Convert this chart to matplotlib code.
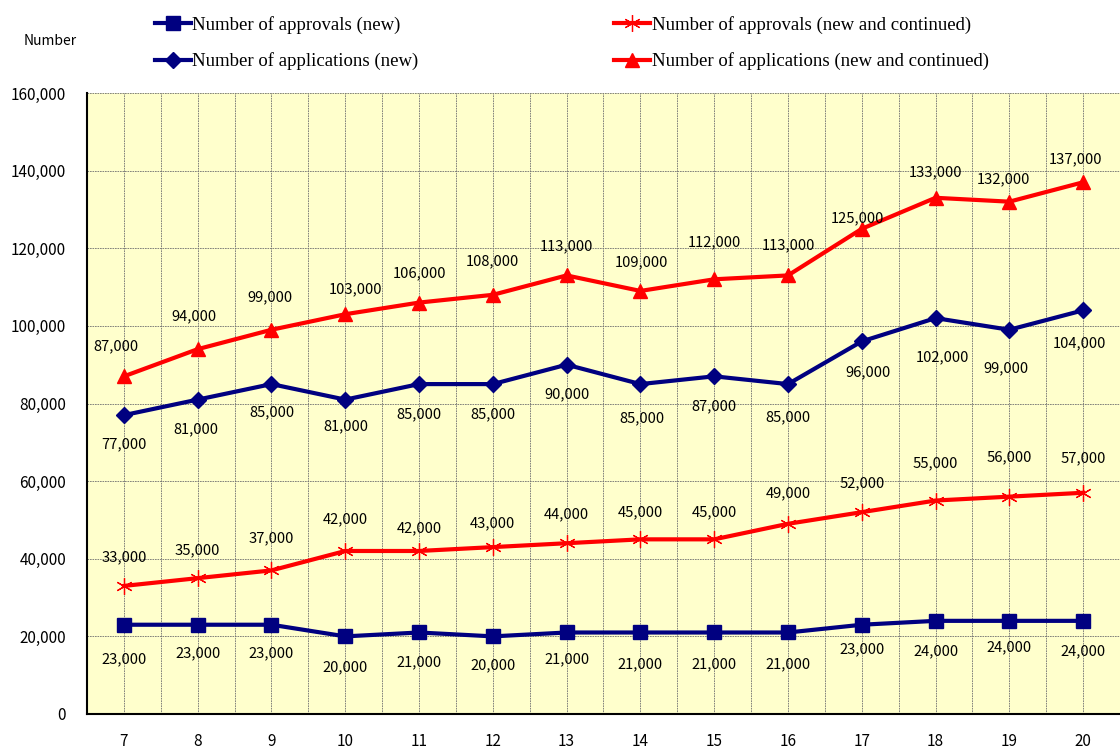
import matplotlib
matplotlib.use("Agg")
import matplotlib.pyplot as plt

years = ["7", "8", "9", "10", "11", "12", "13", "14", "15", "16", "17", "18", "19", "20"]
approvals_new = [23000, 23000, 23000, 20000, 21000, 20000, 21000, 21000, 21000, 21000, 23000, 24000, 24000, 24000]
applications_new = [77000, 81000, 85000, 81000, 85000, 85000, 90000, 85000, 87000, 85000, 96000, 102000, 99000, 104000]
approvals_all = [33000, 35000, 37000, 42000, 42000, 43000, 44000, 45000, 45000, 49000, 52000, 55000, 56000, 57000]
applications_all = [87000, 94000, 99000, 103000, 106000, 108000, 113000, 109000, 112000, 113000, 125000, 133000, 132000, 137000]

y_ticks = [0, 20000, 40000, 60000, 80000, 100000, 120000, 140000, 160000]

# label offsets in pixels (dx, dy); positive dy = up
off_appr_new = [-35, -29, -29, -31, -30, -29, -27, -32, -32, -32, -25, -30, -26, -30]
off_apps_new = [-29, -30, -28, -27, -30, -30, -30, -34, -30, -33, -31, -39, -39, -33]
off_appr_all = [29, 28, 32, 32, 23, 24, 29, 27, 27, 31, 29, 37, 39, 34]
off_apps_all = [30, 33, 32, 25, 29, 34, 29, 29, 37, 30, 11, 25, 22, 23]
dx_apps_all = [-8, -4, -2, 10, 0, 0, 0, 1, 0, 0, -4, 0, -6, -8]
dx_apps_new = [0, -2, 0, 1, 0, 0, 0, 2, 0, 0, 6, 7, -3, -4]

NAVY = "#000080"
RED = "#FF0000"
SANS = ["Noto Sans CJK JP", "DejaVu Sans"]
SERIF = ["Liberation Serif", "DejaVu Serif"]

fig = plt.figure(figsize=(11.2, 7.49), dpi=100)
ax = fig.add_axes([87 / 1120, 35 / 749, 1 - 87 / 1120, (714 - 93) / 749])
ax.set_facecolor("#FFFFCC")

x = list(range(len(years)))

ax.plot(x, approvals_new, color=NAVY, lw=3, marker="s", ms=10, mfc=NAVY, mec=NAVY, zorder=4,
        label="Number of approvals (new)")
ax.plot(x, applications_new, color=NAVY, lw=3, marker="D", ms=8.5, mfc=NAVY, mec=NAVY, zorder=4,
        label="Number of applications (new)")
ax.plot(x, approvals_all, color=RED, lw=3, marker=(6, 2, 0), ms=12, mec=RED, mew=0.9, zorder=4,
        label="Number of approvals (new and continued)")
ax.plot(x, applications_all, color=RED, lw=3, marker="^", ms=10.5, mfc=RED, mec=RED, zorder=4,
        label="Number of applications (new and continued)")


def annotate(vals, dys, dxs=None):
    for i, v in enumerate(vals):
        dx = dxs[i] if dxs else 0
        ax.annotate(f"{v:,}", (i, v), xytext=(dx, dys[i]), textcoords="offset pixels",
                    ha="center", va="center", fontsize=10.6, family=SANS, color="black", zorder=5)


annotate(approvals_new, off_appr_new)
annotate(applications_new, off_apps_new, dx_apps_new)
annotate(approvals_all, off_appr_all)
annotate(applications_all, off_apps_all, dx_apps_all)

ax.set_xlim(-0.5, len(years) - 0.5)
ax.set_ylim(0, 160000)
ax.set_xticks(x)
ax.set_xticklabels(years, family=SANS, fontsize=11)
ax.set_xticks([i + 0.5 for i in range(-1, len(years))], minor=True)
ax.set_yticks(y_ticks)
ax.set_yticklabels([f"{t:,}" for t in y_ticks], family=SANS, fontsize=11)
ax.tick_params(axis="both", which="both", length=0)
ax.tick_params(axis="y", pad=15)
ax.tick_params(axis="x", pad=14)

grid_kw = dict(color="#707070", lw=0.6, linestyle=(0, (2, 1)))
ax.grid(True, which="major", axis="both", **grid_kw)
ax.grid(True, which="minor", axis="x", **grid_kw)
ax.set_axisbelow(True)

for s in ["top", "right"]:
    ax.spines[s].set_visible(False)
for s in ["left", "bottom"]:
    ax.spines[s].set_color("black")
    ax.spines[s].set_linewidth(1.5)

handles, labels = ax.get_legend_handles_labels()
leg_kw = dict(frameon=False, prop={"family": SERIF, "size": 13.5}, handlelength=1.9,
              handletextpad=0.1, labelspacing=0.98, borderpad=0, borderaxespad=0)
leg1 = fig.legend([handles[0], handles[1]], [labels[0], labels[1]], loc="upper left",
                  bbox_to_anchor=(155 / 1120, 1 - 16 / 749), **leg_kw)
leg2 = fig.legend([handles[2], handles[3]], [labels[2], labels[3]], loc="upper left",
                  bbox_to_anchor=(614 / 1120, 1 - 16 / 749), **leg_kw)

fig.text(50 / 1120, 1 - 41 / 749, "Number", ha="center", va="center", fontsize=10, family=SANS)

fig.savefig("out.png", dpi=100)
